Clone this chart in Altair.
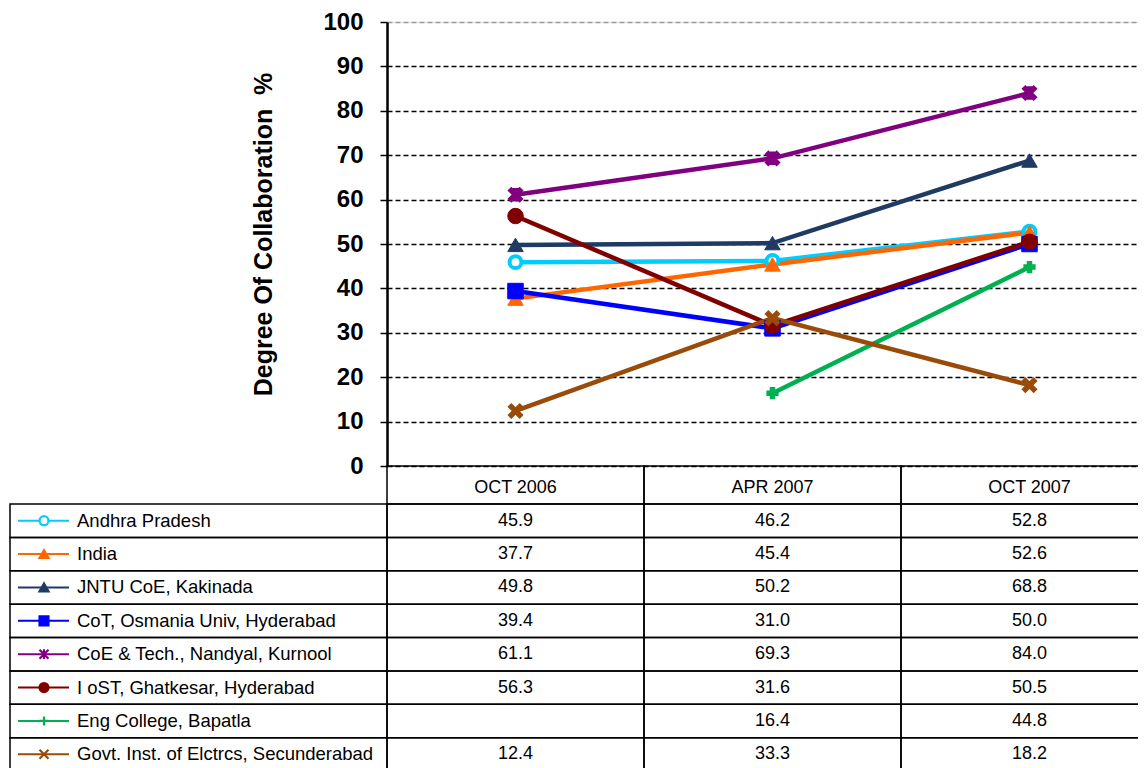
import altair as alt
import pandas as pd

periods = ["OCT 2006", "APR 2007", "OCT 2007"]
series = [
    "Andhra Pradesh",
    "India",
    "JNTU CoE, Kakinada",
    "CoT, Osmania Univ, Hyderabad",
    "CoE & Tech., Nandyal, Kurnool",
    "I oST, Ghatkesar, Hyderabad",
    "Eng College, Bapatla",
    "Govt. Inst. of Elctrcs, Secunderabad",
]
andhra = [45.9, 46.2, 52.8]
india = [37.7, 45.4, 52.6]
jntu = [49.8, 50.2, 68.8]
osmania = [39.4, 31.0, 50.0]
nandyal = [61.1, 69.3, 84.0]
iost = [56.3, 31.6, 50.5]
bapatla = [None, 16.4, 44.8]
govt = [12.4, 33.3, 18.2]
all_values = [andhra, india, jntu, osmania, nandyal, iost, bapatla, govt]

colors = ["#00CCFF", "#FF6600", "#1F3B63", "#0000FF", "#800080", "#800000", "#00B050", "#994C0A"]
fills = ["#FFFFFF", "#FF6600", "#1F3B63", "#0000FF", "#800080", "#800000", "#00B050", "#994C0A"]
XPATH = "M-1,-1L1,1M-1,1L1,-1"
STAR = "M-1,-1L1,1M-1,1L1,-1M0,-1.1L0,1.1"
PLUS = "M-1,0L1,0M0,-1L0,1"
shapes = ["circle", "triangle-up", "triangle-up", "square", STAR, "circle", PLUS, XPATH]
hollow_series = [series[0]]
solid_series = [series[1], series[2], series[3], series[5]]
stroke_series = [series[4], series[6], series[7]]

rows = []
for s, vals in zip(series, all_values):
    for i, (p, v) in enumerate(zip(periods, vals)):
        rows.append({"series": s, "period": p, "idx": i, "value": v,
                     "label": "" if v is None else f"{v:.1f}"})
table_df = pd.DataFrame(rows)
line_df = table_df.dropna(subset=["value"]).reset_index(drop=True)
header_df = pd.DataFrame({"period": periods})
series_df = pd.DataFrame({"series": series})

FONT = "Liberation Sans"
x_scale = alt.Scale(type="band", domain=periods, range=[0, 771], paddingInner=0, paddingOuter=0)
y_scale = alt.Scale(domain=[0, 100], nice=False)
row_scale = alt.Scale(type="band", domain=series, range=[482, 749], paddingInner=0, paddingOuter=0)
stroke_scale = alt.Scale(domain=series, range=colors)
fill_scale = alt.Scale(domain=series, range=fills)
shape_scale = alt.Scale(domain=series, range=shapes)

y_axis = alt.Axis(
    values=list(range(0, 101, 10)),
    labelFont=FONT, labelFontSize=24, labelFontWeight="bold", labelColor="black",
    labelPadding=17,
    tickColor="black", tickSize=7, tickWidth=1.5,
    domainColor="black", domainWidth=2.5,
    grid=True,
    gridColor={"condition": {"test": "datum.value === 100", "value": "#999999"}, "value": "black"},
    gridDash=[5, 3], gridWidth=1.3,
    title="Degree Of Collaboration\u00a0\u00a0%",
    titleFont=FONT, titleFontSize=25, titleFontWeight="bold", titleColor="black",
    titlePadding=46, titleY=212,
)

X = alt.X("period:N", scale=x_scale, axis=None)
Y = alt.Y("value:Q", scale=y_scale)
STROKE = alt.Stroke("series:N", scale=stroke_scale, legend=None)
FILL = alt.Fill("series:N", scale=fill_scale, legend=None)
SHAPE = alt.Shape("series:N", scale=shape_scale, legend=None)

lines = alt.Chart(line_df).mark_line(strokeWidth=4.5).encode(
    x=X,
    y=alt.Y("value:Q", scale=y_scale, axis=y_axis),
    stroke=STROKE,
    order=alt.Order("idx:Q"),
)


def marker_layer(members, size, sw):
    return alt.Chart(line_df).transform_filter(
        alt.FieldOneOfPredicate(field="series", oneOf=members)
    ).mark_point(filled=True, size=size, opacity=1, strokeWidth=sw).encode(
        x=X, y=Y, stroke=STROKE, fill=FILL, shape=SHAPE)


points_hollow = marker_layer(hollow_series, 140, 4)
points_solid = marker_layer(solid_series, 240, 1)
points_stroke = marker_layer(stroke_series, 150, 5.5)

header_cells = alt.Chart(header_df).mark_rect(fillOpacity=0, stroke="black", strokeWidth=1.5).encode(
    x=X, y=alt.datum(0), y2=alt.value(482),
)
header_text = alt.Chart(header_df).mark_text(font=FONT, fontSize=18, dy=22, color="black").encode(
    x=X, y=alt.datum(0), text="period:N",
)
plot_layer = alt.layer(lines, points_hollow, points_solid, points_stroke, header_cells, header_text)

RY = alt.Y("series:N", scale=row_scale, axis=None)
cells = alt.Chart(table_df).mark_rect(fillOpacity=0, stroke="black", strokeWidth=1.5).encode(x=X, y=RY)
cell_text = alt.Chart(table_df).mark_text(font=FONT, fontSize=18, color="black").encode(
    x=X, y=RY, text="label:N")
legend_cells = alt.Chart(series_df).mark_rect(fillOpacity=0, stroke="black", strokeWidth=1.5).encode(
    x=alt.value(-377), x2=alt.value(0), y=RY)
legend_lines = alt.Chart(series_df).mark_rule(strokeWidth=2).encode(
    x=alt.value(-369), x2=alt.value(-318), y=RY, stroke=STROKE)
legend_marks = alt.Chart(series_df).mark_point(filled=True, size=80, opacity=1).encode(
    x=alt.value(-343), y=RY, stroke=STROKE, fill=FILL, shape=SHAPE,
    strokeWidth=alt.value(2.2))
legend_text = alt.Chart(series_df).mark_text(font=FONT, fontSize=18.5, align="left", color="black").encode(
    x=alt.value(-310), y=RY, text="series:N")
table_layer = alt.layer(cells, cell_text, legend_cells, legend_lines, legend_marks, legend_text)

chart = alt.layer(plot_layer, table_layer).resolve_scale(y="independent").properties(
    width=751, height=444,
    autosize=alt.AutoSizeParams(type="none"),
    padding={"left": 379, "top": 14, "right": 0, "bottom": 302},
    background="white",
).configure_view(stroke=None).configure(font=FONT)

chart.save("out.html", embed_options={"renderer": "svg", "actions": False})
